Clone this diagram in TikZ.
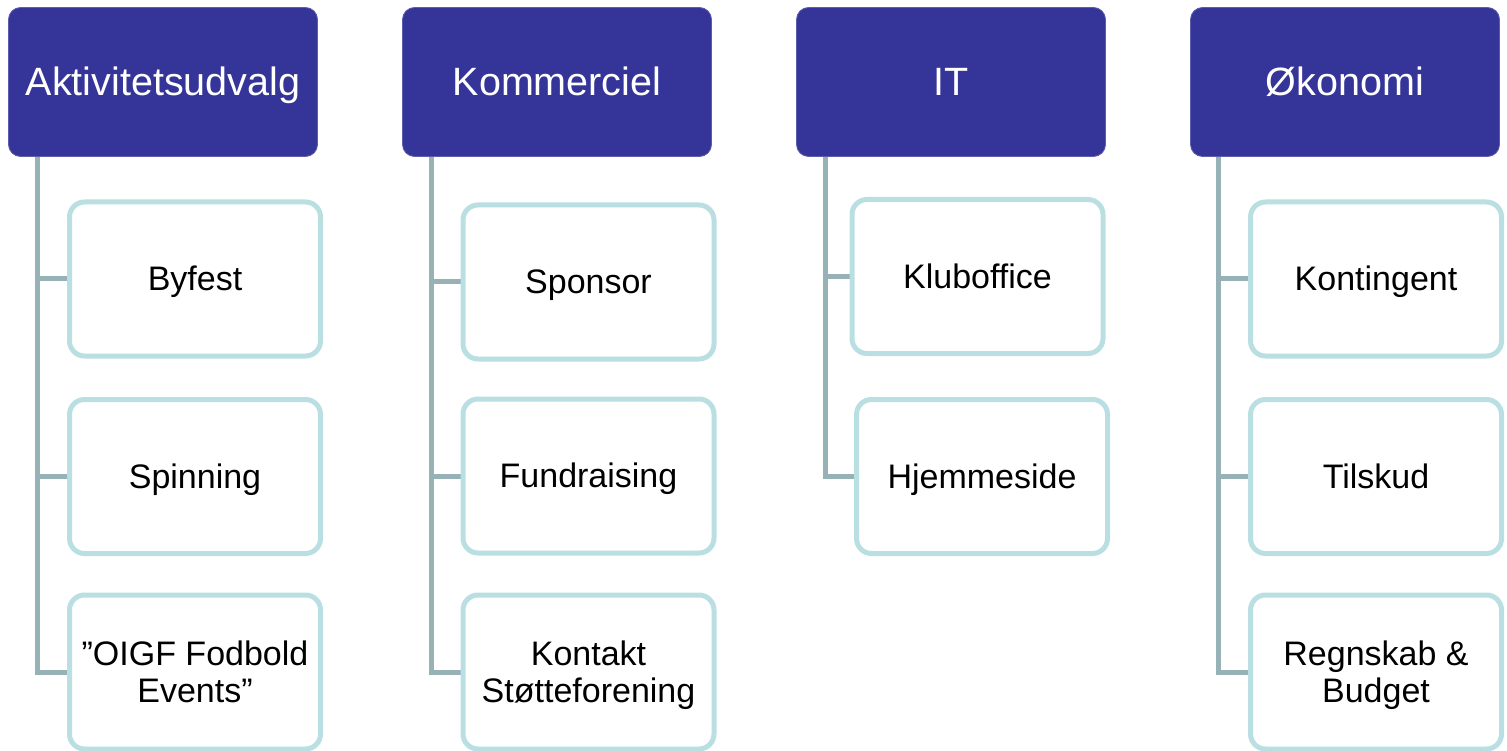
\documentclass[tikz,border=0pt]{standalone}
\usepackage{fontspec}
\setmainfont{Liberation Sans}
\usetikzlibrary{backgrounds}
\definecolor{headblue}{RGB}{53,53,153}
\definecolor{childline}{RGB}{185,223,227}
\definecolor{connline}{RGB}{150,178,183}
\tikzset{
  headbox/.style={draw=headblue!80!white, line width=0.8pt, fill=headblue, rounded corners=12pt,
    minimum width=309pt, minimum height=149pt, inner sep=0pt, text=white,
    text height=35.7pt, text depth=8.4pt,
    font=\fontsize{39.5}{44}\selectfont},
  childbox/.style={draw=childline, line width=5pt, fill=white, rounded corners=15pt,
    minimum width=251pt, minimum height=154pt, inner sep=0pt, align=center, text=black,
    text height=30.8pt, text depth=7.2pt,
    font=\fontsize{34}{37.5}\selectfont},
  twoline/.style={text height=68.3pt, text depth=7.2pt}
  ,conn/.style={draw=connline, line width=5pt}
}
\begin{document}
\begin{tikzpicture}[x=1pt,y=-1pt]
\useasboundingbox (0,0) rectangle (1507,751);
% headers
\node[headbox] (h1) at (163,82) {Aktivitetsudvalg};
\node[headbox] (h2) at (557,82) {Kommerciel};
\node[headbox] (h3) at (951,82) {IT};
\node[headbox] (h4) at (1345,82) {Økonomi};
% column 1
\node[childbox] (a1) at (195,279) {Byfest};
\node[childbox] (a2) at (195,476.5) {Spinning};
\node[childbox, twoline] (a3) at (195,672) {”OIGF Fodbold\\Events”};
% column 2
\node[childbox] (b1) at (588.5,282) {Sponsor};
\node[childbox] (b2) at (588.5,476) {Fundraising};
\node[childbox, twoline] (b3) at (588.5,672) {Kontakt\\Støtteforening};
% column 3
\node[childbox] (c1) at (977.5,276.5) {Kluboffice};
\node[childbox] (c2) at (982,476.5) {Hjemmeside};
% column 4
\node[childbox] (d1) at (1376,279) {Kontingent};
\node[childbox] (d2) at (1376,476.5) {Tilskud};
\node[childbox, twoline] (d3) at (1376,672) {Regnskab \&\\Budget};
% spine coordinates
\coordinate (s1) at (37.5,157);
\coordinate (s2) at (431.5,157);
\coordinate (s3) at (825,157);
\coordinate (s4) at (1218,157);
\begin{pgfonlayer}{background}
\draw[conn] (s1) |- (a3.west);
\draw[conn] (s1|-a1.west) -- (a1.west);
\draw[conn] (s1|-a2.west) -- (a2.west);
\draw[conn] (s2) |- (b3.west);
\draw[conn] (s2|-b1.west) -- (b1.west);
\draw[conn] (s2|-b2.west) -- (b2.west);
\draw[conn] (s3) |- (c2.west);
\draw[conn] (s3|-c1.west) -- (c1.west);
\draw[conn] (s4) |- (d3.west);
\draw[conn] (s4|-d1.west) -- (d1.west);
\draw[conn] (s4|-d2.west) -- (d2.west);
\end{pgfonlayer}
\end{tikzpicture}
\end{document}
